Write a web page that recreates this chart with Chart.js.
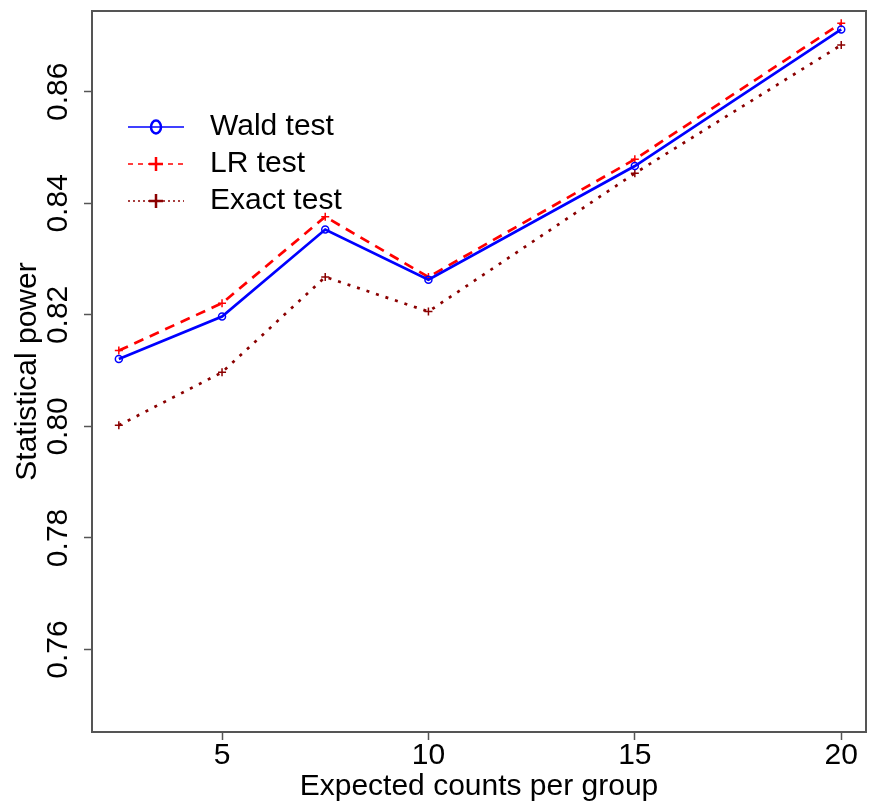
<!DOCTYPE html>
<html>
<head>
<meta charset="utf-8">
<script src="https://cdn.jsdelivr.net/npm/chart.js@4.4.1/dist/chart.umd.min.js"></script>
<style>
  html, body { margin: 0; padding: 0; background: #fff; }
  #wrap { width: 874px; height: 802px; }
</style>
</head>
<body>
<div id="wrap"><canvas id="grafica" width="874" height="802"></canvas></div>
<script>
// datos
const counts = [2.5, 5, 7.5, 10, 15, 20];
const waldPower = [0.8121, 0.8197, 0.8353, 0.8263, 0.8467, 0.8712];
const lrPower = [0.8136, 0.8221, 0.8376, 0.8268, 0.8479, 0.8723];
const exactPower = [0.8002, 0.8097, 0.8268, 0.8206, 0.8454, 0.8684];
const xTicks = [5, 10, 15, 20];
const yTicks = [0.76, 0.78, 0.80, 0.82, 0.84, 0.86];

const FONT = '"Liberation Sans", Arial, sans-serif';
const frameColor = '#555';

const toPoints = (ys) => counts.map((c, i) => ({ x: c, y: ys[i] }));

// caja alrededor del area del grafico (estilo R)
const frame = {
  id: 'frame',
  afterDatasetsDraw(chart) {
    const { ctx, chartArea: a } = chart;
    ctx.save();
    ctx.strokeStyle = frameColor;
    ctx.lineWidth = 2;
    ctx.strokeRect(a.left, a.top, a.right - a.left, a.bottom - a.top);
    ctx.restore();
  }
};

// leyenda con linea + simbolo, como legend() de R
const legendR = {
  id: 'legendR',
  afterDraw(chart) {
    const ctx = chart.ctx;
    const x0 = 128, x1 = 184, xm = 156, xt = 210;
    const rows = [127, 164, 201];
    chart.data.datasets.forEach((ds, i) => {
      const y = rows[i];
      ctx.save();
      ctx.strokeStyle = ds.borderColor;
      ctx.lineWidth = 1.3;
      ctx.setLineDash(ds.legendDash);
      ctx.beginPath();
      ctx.moveTo(x0, y);
      ctx.lineTo(x1, y);
      ctx.stroke();
      ctx.setLineDash([]);
      ctx.lineWidth = 2.5;
      ctx.strokeStyle = ds.pointBorderColor;
      ctx.beginPath();
      if (ds.pointStyle === 'circle') {
        ctx.ellipse(xm, y, 5, 6.5, 0, 0, Math.PI * 2);
      } else {
        ctx.moveTo(xm - 7, y); ctx.lineTo(xm + 7, y);
        ctx.moveTo(xm, y - 7); ctx.lineTo(xm, y + 7);
      }
      ctx.stroke();
      ctx.fillStyle = '#000';
      ctx.font = '30px ' + FONT;
      ctx.textBaseline = 'middle';
      ctx.fillText(ds.label, xt, y);
      ctx.restore();
    });
  }
};

const ctx = document.getElementById('grafica').getContext('2d');
const chart = new Chart(ctx, {
  type: 'line',
  data: {
    datasets: [
      {
        label: 'Wald test',
        data: toPoints(waldPower),
        borderColor: '#0000ff',
        backgroundColor: 'transparent',
        borderWidth: 2.7,
        pointStyle: 'circle',
        pointRadius: 3.5,
        pointBorderWidth: 1.5,
        pointBorderColor: '#0000ff',
        pointBackgroundColor: 'transparent',
        legendDash: []
      },
      {
        label: 'LR test',
        data: toPoints(lrPower),
        borderColor: '#ff0000',
        backgroundColor: 'transparent',
        borderWidth: 2.7,
        borderDash: [10, 7],
        pointStyle: 'cross',
        pointRadius: 4,
        pointBorderWidth: 1.5,
        pointBorderColor: '#ff0000',
        legendDash: [5, 5]
      },
      {
        label: 'Exact test',
        data: toPoints(exactPower),
        borderColor: '#8b0000',
        backgroundColor: 'transparent',
        borderWidth: 2.7,
        borderDash: [3, 7],
        pointStyle: 'cross',
        pointRadius: 4,
        pointBorderWidth: 1.5,
        pointBorderColor: '#8b0000',
        legendDash: [2, 3]
      }
    ]
  },
  options: {
    responsive: false,
    devicePixelRatio: 1,
    animation: false,
    layout: { padding: { top: 8, right: 8, left: 0, bottom: 0 } },
    plugins: { legend: { display: false }, tooltip: { enabled: false } },
    scales: {
      x: {
        type: 'linear',
        min: 1.85,
        max: 20.6,
        afterBuildTicks: (s) => { s.ticks = xTicks.map(v => ({ value: v })); },
        afterFit: (s) => { s.height = 70; },
        border: { display: false },
        grid: { drawOnChartArea: false, drawTicks: true, tickLength: 8, tickColor: frameColor, tickWidth: 1.5 },
        ticks: { color: '#000', font: { size: 30, family: FONT, lineHeight: 1 }, padding: 1, maxRotation: 0, autoSkip: false },
        title: { display: true, text: 'Expected counts per group', color: '#000',
                 font: { size: 30, family: FONT, lineHeight: 1 }, padding: { top: 0, bottom: 0 } }
      },
      y: {
        min: 0.7452,
        max: 0.8745,
        afterBuildTicks: (s) => { s.ticks = yTicks.map(v => ({ value: v })); },
        afterFit: (s) => { s.width = 92; },
        border: { display: false },
        grid: { drawOnChartArea: false, drawTicks: true, tickLength: 8, tickColor: frameColor, tickWidth: 1.5 },
        ticks: { color: '#000', font: { size: 30, family: FONT, lineHeight: 1 }, padding: -4,
                 minRotation: 90, maxRotation: 90, crossAlign: 'center',
                 callback: (v) => v.toFixed(2) },
        title: { display: true, text: 'Statistical power', color: '#000',
                 font: { size: 30, family: FONT, lineHeight: 1 }, padding: { top: 13 } }
      }
    }
  },
  plugins: [frame, legendR]
});
</script>
</body>
</html>
